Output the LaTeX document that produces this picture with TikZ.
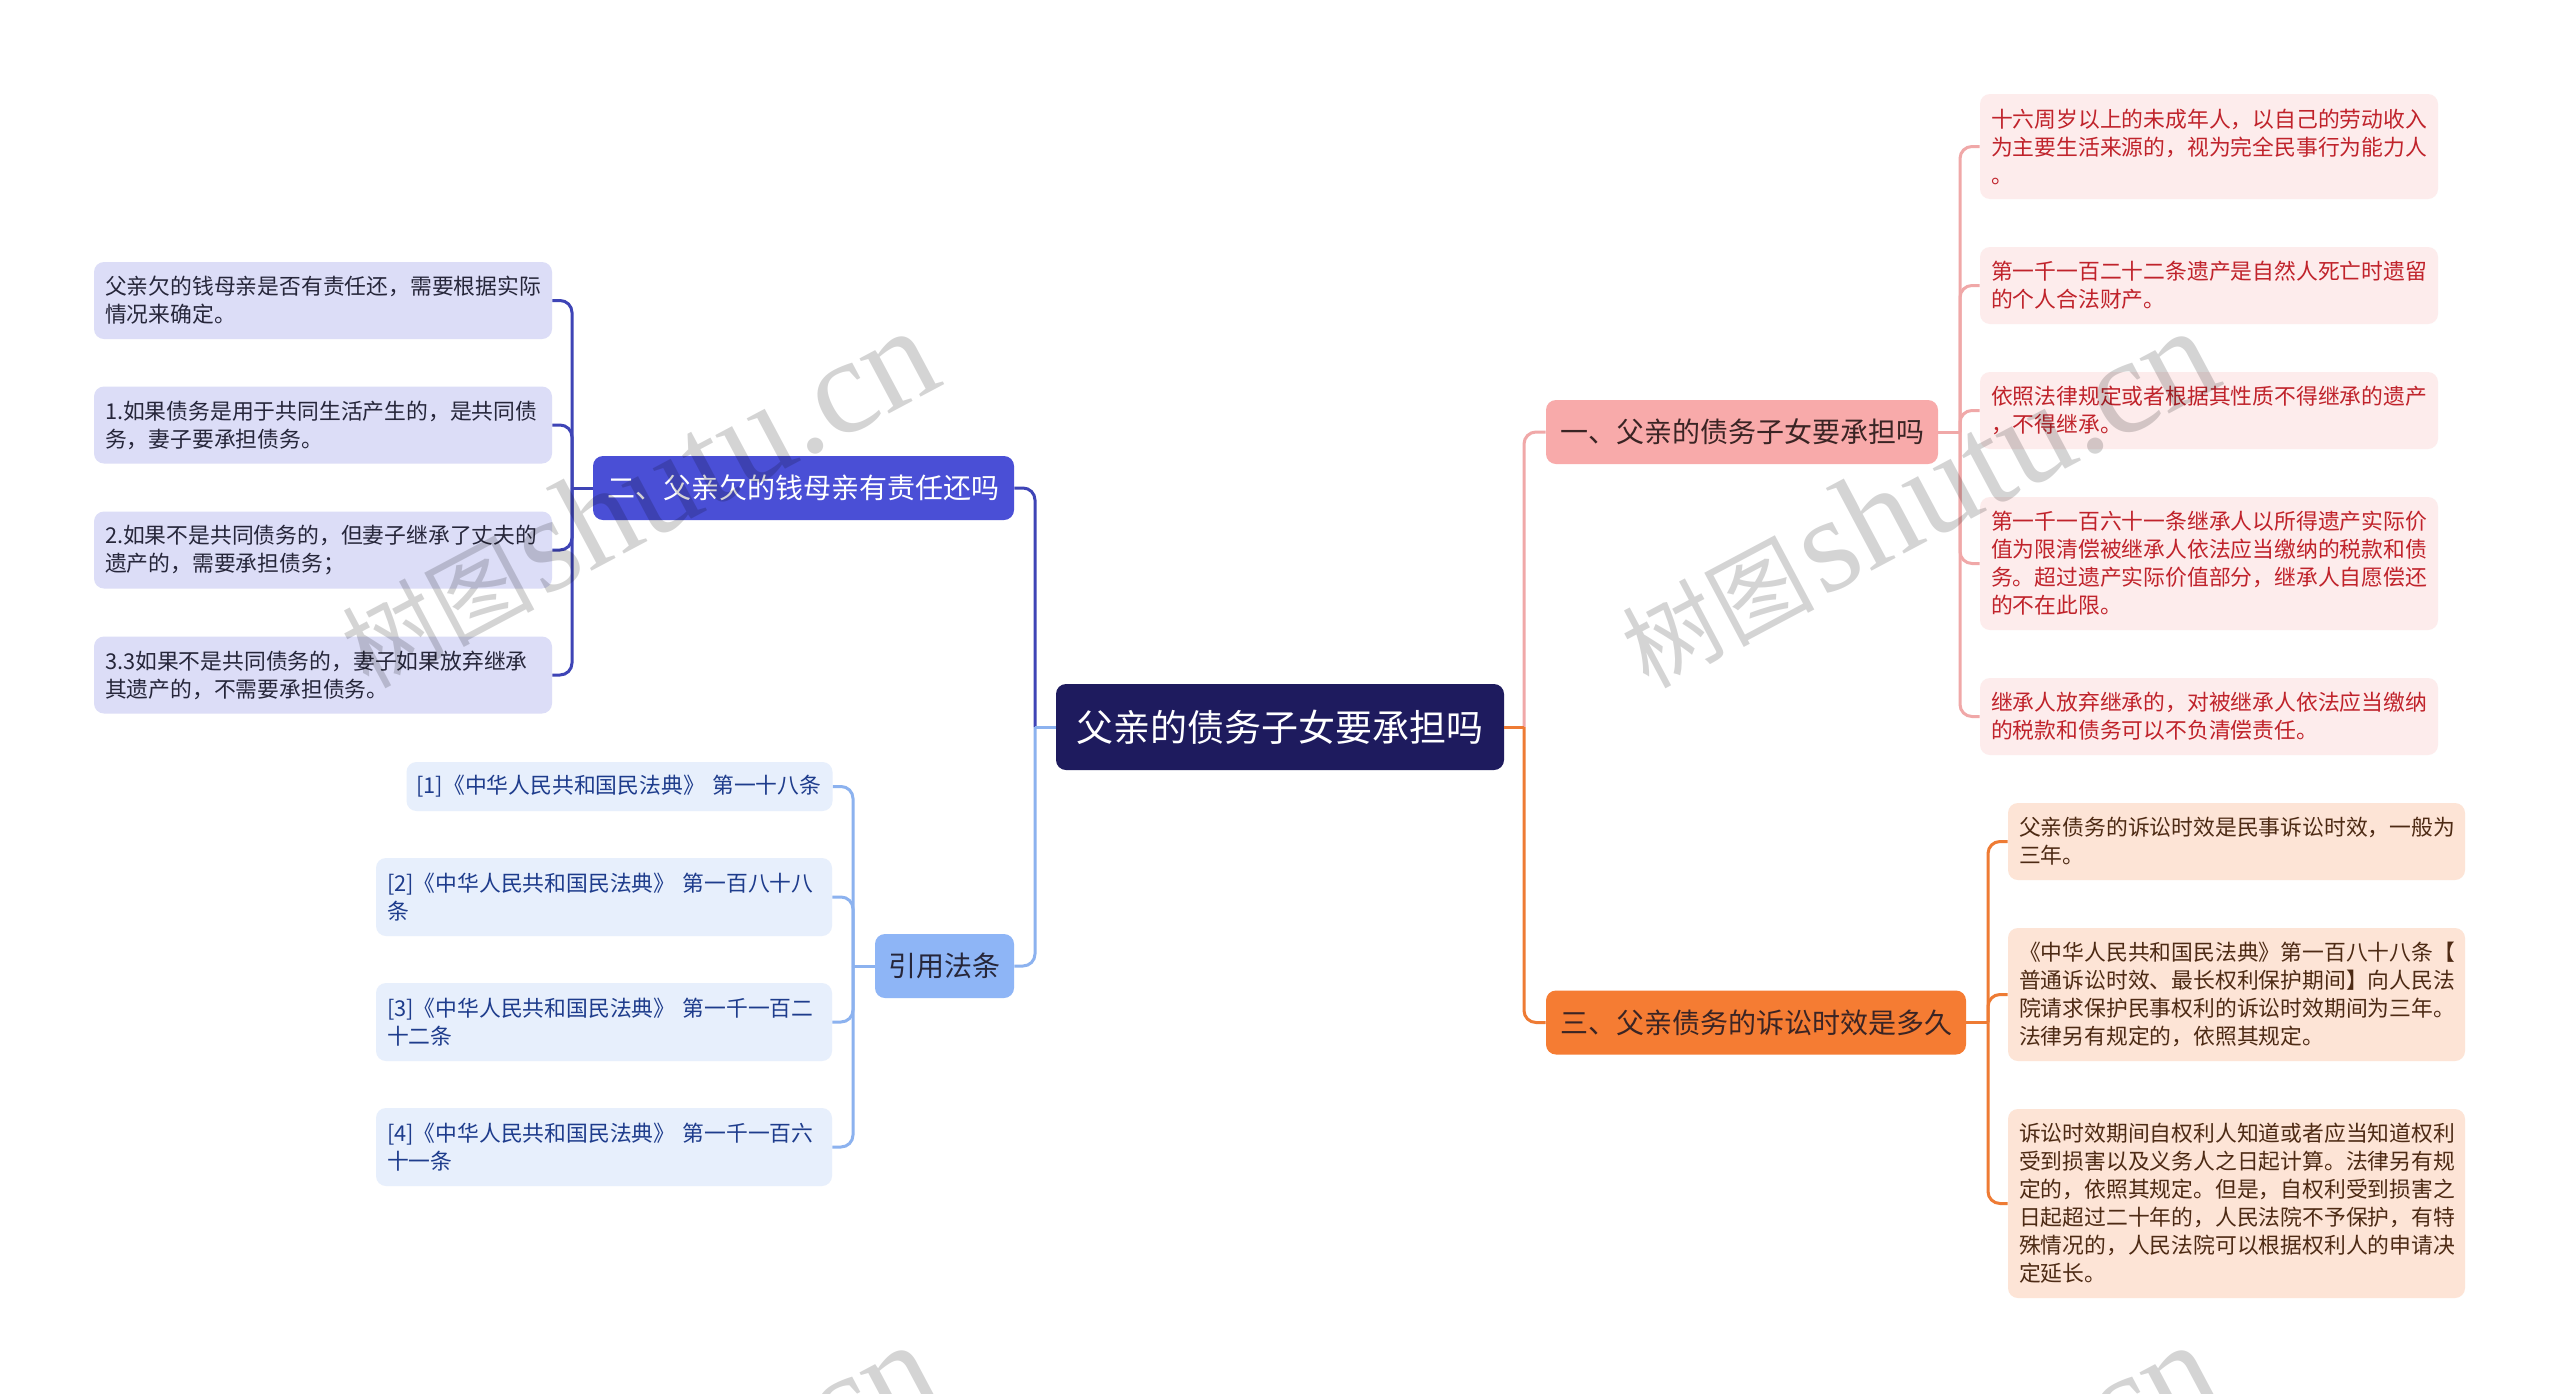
\documentclass[tikz,border=0pt]{standalone}
\usepackage{fontspec}
\setmainfont{Noto Sans CJK SC}
\newfontfamily\wmlatin{Liberation Serif}
\newcommand\childfont{\fontsize{10.9pt}{14pt}\selectfont}
\newcommand\branchfont{\fontsize{14pt}{16pt}\selectfont}
\newcommand\rootfont{\fontsize{18.5pt}{21pt}\selectfont}
\definecolor{rootc}{HTML}{1E1B5E}
\definecolor{btwo}{HTML}{4A4FD6}
\definecolor{ltwo}{HTML}{3E44B6}
\definecolor{lfill}{HTML}{DCDDF7}
\definecolor{ltext}{HTML}{26263A}
\definecolor{bcite}{HTML}{8EB5F6}
\definecolor{lcite}{HTML}{8CB2EF}
\definecolor{cfill}{HTML}{E7EFFC}
\definecolor{ctext}{HTML}{1E3C8C}
\definecolor{bone}{HTML}{F8AAAA}
\definecolor{lone}{HTML}{F0A8A8}
\definecolor{rfill}{HTML}{FDECEC}
\definecolor{rtext}{HTML}{C0232B}
\definecolor{bthree}{HTML}{F57C33}
\definecolor{lthree}{HTML}{EE7B34}
\definecolor{ofill}{HTML}{FDE4D6}
\definecolor{otext}{HTML}{4D2A14}
\definecolor{btext}{HTML}{3A2424}
\begin{document}
\begin{tikzpicture}[x=0.5pt,y=-0.5pt,
  box/.style={rounded corners=5pt, inner ysep=0pt},
  rootbox/.style={box, fill=rootc, text=white, font=\rootfont, minimum width=224pt, minimum height=43pt},
  branch/.style={box, font=\branchfont, minimum height=32pt, inner xsep=0pt},
  child/.style={box, inner xsep=5.5pt, align=left, text width=218pt, font=\childfont},
  lchild/.style={child, fill=lfill, text=ltext},
  cchild/.style={child, fill=cfill, text=ctext, text width=217pt},
  rchild/.style={child, fill=rfill, text=rtext},
  ochild/.style={child, fill=ofill, text=otext, text width=217.5pt},
  conn/.style={line width=1.5pt, rounded corners=6pt},
  wm/.style={text=black, text opacity=0.17, inner sep=0pt}
]
\useasboundingbox (0,0) rectangle (2560,1393);
\fill[white] (0,0) rectangle (2560,1393);

% root
\node[rootbox] (root) at (1280,727) {父亲的债务子女要承担吗};

% level-1 branches
\node[branch, fill=btwo, text=white, minimum width=210.5pt] (b2) at (803.5,488) {二、父亲欠的钱母亲有责任还吗};
\node[branch, fill=bcite, text=ltext, minimum width=69.5pt] (bc) at (944.5,966) {引用法条};
\node[branch, fill=bone, text=btext, minimum width=196pt] (b1) at (1742,432) {一、父亲的债务子女要承担吗};
\node[branch, fill=bthree, text=btext, minimum width=210pt] (b3) at (1756,1022.5) {三、父亲债务的诉讼时效是多久};

% left children
\node[lchild, minimum height=38.5pt] (l1) at (323,300.5) {父亲欠的钱母亲是否有责任还，需要根据实际\\情况来确定。};
\node[lchild, minimum height=38.5pt] (l2) at (323,425) {1.如果债务是用于共同生活产生的，是共同债\\务，妻子要承担债务。};
\node[lchild, minimum height=38.5pt] (l3) at (323,550) {2.如果不是共同债务的，但妻子继承了丈夫的\\遗产的，需要承担债务；};
\node[lchild, minimum height=38.5pt] (l4) at (323,675) {3.3如果不是共同债务的，妻子如果放弃继承\\其遗产的，不需要承担债务。};

% citations
\node[cchild, inner xsep=5pt, text width=203pt, minimum height=24.5pt] (c1) at (619.5,786.5) {[1]《中华人民共和国民法典》~第一十八条};
\node[cchild, minimum height=39pt] (c2) at (604,897) {[2]《中华人民共和国民法典》 第一百八十八\\条};
\node[cchild, minimum height=39pt] (c3) at (604,1022) {[3]《中华人民共和国民法典》 第一千一百二\\十二条};
\node[cchild, minimum height=39pt] (c4) at (604,1147) {[4]《中华人民共和国民法典》 第一千一百六\\十一条};

% right children (branch one)
\node[rchild, minimum height=52.5pt] (r1) at (2209,146.5) {十六周岁以上的未成年人，以自己的劳动收入\\为主要生活来源的，视为完全民事行为能力人\\。};
\node[rchild, minimum height=38.5pt] (r2) at (2209,285.5) {第一千一百二十二条遗产是自然人死亡时遗留\\的个人合法财产。};
\node[rchild, minimum height=38.5pt] (r3) at (2209,410.5) {依照法律规定或者根据其性质不得继承的遗产\\，不得继承。};
\node[rchild, minimum height=66.5pt] (r4) at (2209,563.5) {第一千一百六十一条继承人以所得遗产实际价\\值为限清偿被继承人依法应当缴纳的税款和债\\务。超过遗产实际价值部分，继承人自愿偿还\\的不在此限。};
\node[rchild, minimum height=38.5pt] (r5) at (2209,716.5) {继承人放弃继承的，对被继承人依法应当缴纳\\的税款和债务可以不负清偿责任。};

% right children (branch three)
\node[ochild, minimum height=38.5pt] (o1) at (2236.5,841.5) {父亲债务的诉讼时效是民事诉讼时效，一般为\\三年。};
\node[ochild, minimum height=66.5pt] (o2) at (2236.5,994.5) {《中华人民共和国民法典》第一百八十八条【\\普通诉讼时效、最长权利保护期间】向人民法\\院请求保护民事权利的诉讼时效期间为三年。\\法律另有规定的，依照其规定。};
\node[ochild, minimum height=94.5pt] (o3) at (2236.5,1203.5) {诉讼时效期间自权利人知道或者应当知道权利\\受到损害以及义务人之日起计算。法律另有规\\定的，依照其规定。但是，自权利受到损害之\\日起超过二十年的，人民法院不予保护，有特\\殊情况的，人民法院可以根据权利人的申请决\\定延长。};

% junction coordinates
\coordinate (jL) at (1035,727);
\coordinate (jR) at (1524,727);
\coordinate (j2) at (572,488);
\coordinate (jc) at (853,966);
\coordinate (j1) at (1960,432);
\coordinate (j3) at (1988,1022.5);

% root -> branches
\draw[conn, ltwo] (b2.east) -| (jL);
\draw[conn, lcite] (bc.east) -| (jL);
\draw[conn, lcite] (jL) -- (root.west);
\draw[conn, lone] (b1.west) -| (jR);
\draw[conn, lthree] (b3.west) -| (jR);
\draw[conn, lthree] (jR) -- (root.east);

% branch two -> children
\foreach \c in {l1,l2,l3,l4} \draw[conn, ltwo] (\c.east) -| (j2);
\draw[conn, ltwo] (j2) -- (b2.west);
% citations
\foreach \c in {c1,c2,c3,c4} \draw[conn, lcite] (\c.east) -| (jc);
\draw[conn, lcite] (jc) -- (bc.west);
% branch one
\foreach \c in {r1,r2,r3,r4,r5} \draw[conn, lone] (\c.west) -| (j1);
\draw[conn, lone] (j1) -- (b1.east);
% branch three
\foreach \c in {o1,o2,o3} \draw[conn, lthree] (\c.west) -| (j3);
\draw[conn, lthree] (j3) -- (b3.east);

% watermarks
\begin{scope}
\clip (0,0) rectangle (2560,1393);
\foreach \dx/\dy [count=\i] in {0/0, 1280/0, 0/1014, 1280/1014} {
  \node[wm, font=\fontsize{48pt}{50pt}\selectfont, anchor=base west, rotate=28] (wmcjk\i) at (368+\dx,690+\dy) {树图};
  \node[wm, font=\wmlatin\fontsize{68pt}{70pt}\selectfont, anchor=base east, rotate=28] (wmlat\i) at (947+\dx,383+\dy) {shutu.cn};
}
\end{scope}
\end{tikzpicture}
\end{document}
